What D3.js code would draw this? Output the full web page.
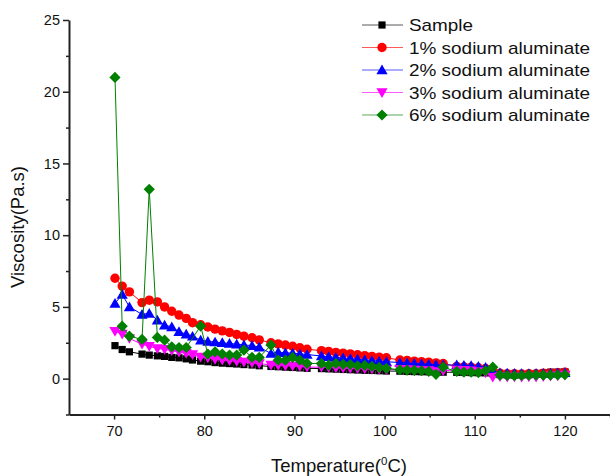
<!DOCTYPE html>
<html>
<head>
<meta charset="utf-8">
<script src="https://cdn.jsdelivr.net/npm/d3@7/dist/d3.min.js"></script>
<style>
  html, body { margin: 0; padding: 0; background: #fff; }
  svg { display: block; font-family: Arial, "Liberation Sans", sans-serif; }
</style>
</head>
<body>
<svg id="chart" width="610" height="476"></svg>
<script>
// Measurement temperatures (°C), shared by all series
const temperature = [
  70.1, 70.9, 71.7,
  73.1, 73.9, 74.8, 75.6, 76.4, 77.2, 78.0, 78.7, 79.6, 80.4, 81.2, 82.0, 82.8, 83.6, 84.4, 85.3, 86.1,
  87.4, 88.2, 89.0, 89.8, 90.6, 91.4,
  93.0, 93.8, 94.6, 95.4, 96.2, 97.0, 97.8, 98.6, 99.4, 100.2,
  101.7, 102.5, 103.3, 104.1, 104.9, 105.7, 106.5,
  108.0, 108.8, 109.6, 110.4, 111.2, 112.0,
  112.8, 113.6, 114.4, 115.2, 116.0, 116.8, 117.6, 118.4, 119.2, 120.0
];

// Viscosity (Pa.s) for each sample; null = no reading at that temperature
const sample = [
  2.3, 2.03, 1.87,
  1.71, 1.64, 1.59, 1.55, 1.48, 1.45, 1.38, 1.3, 1.22, 1.18, 1.12, 1.08, 1.05, 1.02, 0.98, 0.95, 0.9,
  0.85, 0.83, 0.8, 0.78, 0.75, 0.72,
  0.7, 0.68, 0.66, 0.64, 0.62, 0.6, 0.58, 0.57, 0.55, 0.53,
  0.52, 0.5, 0.49, 0.48, 0.47, 0.46, 0.45,
  0.44, 0.43, 0.42, 0.41, 0.4, 0.35,
  0.28, 0.26, 0.25, 0.26, 0.27, 0.3, 0.4, 0.45, 0.45, 0.48
];
const alum1 = [
  7.0, 6.45, 6.05,
  5.3, 5.47, 5.35, 5.0, 4.7, 4.43, 4.2, 3.9, 3.75, 3.6, 3.45, 3.33, 3.22, 3.08, 2.96, 2.85, 2.7,
  2.5, 2.42, 2.34, 2.26, 2.15, 2.05,
  1.95, 1.9, 1.83, 1.78, 1.72, 1.66, 1.6, 1.55, 1.5, 1.45,
  1.3, 1.27, 1.22, 1.18, 1.15, 1.1, 1.05,
  0.85, 0.82, 0.8, 0.76, 0.7, 0.5,
  0.38, 0.35, 0.35, 0.33, 0.35, 0.35, 0.38, 0.4, 0.42, 0.45
];
const alum2 = [
  5.24, 5.87, 5.0,
  4.48, 4.55, 4.08, 3.73, 3.61, 3.27, 3.1, 2.95, 2.68, 2.6, 2.55, 2.5, 2.45, 2.4, 2.35, 2.3, 2.2,
  1.75, 1.85, 1.8, 1.78, 1.72, 1.68,
  1.58, 1.53, 1.48, 1.44, 1.4, 1.35, 1.3, 1.26, 1.22, 1.18,
  1.12, 1.1, 1.06, 1.03, 1.0, 0.97, 0.95,
  0.95, 0.93, 0.9, 0.85, 0.78, 0.55,
  0.4, 0.38, 0.36, 0.35, 0.35, 0.36, 0.37, 0.38, 0.4, 0.42
];
const alum3 = [
  3.3, 3.1, 2.8,
  2.4, 2.25, 2.1, 2.05, 1.95, 1.85, 1.76, 1.68, 1.5, 1.45, 1.35, 1.3, 1.25, 1.2, 1.15, 1.1, 1.05,
  0.95, 0.92, 0.9, 0.88, 0.85, 0.8,
  0.8, 0.78, 0.76, 0.74, 0.72, 0.7, 0.68, 0.66, 0.64, 0.62,
  0.65, 0.63, 0.6, 0.58, 0.56, 0.5, 0.55,
  0.6, 0.58, 0.55, 0.5, 0.4, 0.1,
  0.15, 0.1, 0.12, 0.1, 0.12, 0.1, 0.15, 0.18, 0.2, 0.25
];
const alum6 = [
  21.0, 3.66, 2.96,
  2.73, 13.2, 2.87, 2.68, 2.22, 2.17, 2.17, null, 3.66, 1.71, 1.87, 1.71, 1.64, 1.64, 1.99, 1.48, 1.48,
  2.34, 1.29, 1.29, 1.48, 1.29, 1.06,
  1.06, 0.94, 1.06, 1.0, 0.98, 0.9, 0.92, 0.85, 0.78, 0.72,
  0.62, 0.6, 0.58, 0.55, 0.5, 0.3, 0.8,
  0.5, 0.45, 0.45, 0.42, 0.55, 0.8,
  0.25, 0.22, 0.2, 0.22, 0.24, 0.25, 0.24, 0.25, 0.26, 0.27
];

const seriesNames = ["Sample", "1% sodium aluminate", "2% sodium aluminate", "3% sodium aluminate", "6% sodium aluminate"];
const seriesValues = [sample, alum1, alum2, alum3, alum6];
const seriesColors = ["#000000", "#ff0000", "#0000ff", "#ff00ff", "#008000"];
const seriesShapes = ["square", "circle", "triangleUp", "triangleDown", "diamond"];

const xMajorTicks = [70, 80, 90, 100, 110, 120];
const xMinorTicks = [75, 85, 95, 105, 115, 125];
const yMajorTicks = [0, 5, 10, 15, 20, 25];
const yMinorTicks = [-2.5, 2.5, 7.5, 12.5, 17.5, 22.5];

const svg = d3.select("#chart");
const x = d3.scaleLinear().domain([65, 125]).range([69, 610]);
const y = d3.scaleLinear().domain([-2.5, 25]).range([414.5, 20]);

// marker path generators
function markerPath(shape) {
  switch (shape) {
    case "square": return d3.symbol().type(d3.symbolSquare).size(52)();
    case "circle": return d3.symbol().type(d3.symbolCircle).size(70)();
    case "triangleUp": return "M0,-5.4L5.6,4.3L-5.6,4.3Z";
    case "triangleDown": return "M0,5.4L5.6,-4.3L-5.6,-4.3Z";
    case "diamond": return "M0,-5.6L5.6,0L0,5.6L-5.6,0Z";
  }
}

const plot = svg.append("g");
const line = d3.line().x(d => x(d[0])).y(d => y(d[1]));

seriesValues.forEach((vals, i) => {
  const pts = temperature.map((t, j) => [t, vals[j]]).filter(d => d[1] !== null);
  const g = plot.append("g");
  g.append("path")
    .datum(pts)
    .attr("d", line)
    .attr("fill", "none")
    .attr("stroke", seriesColors[i])
    .attr("stroke-width", 1);
  g.selectAll("path.m")
    .data(pts)
    .join("path")
    .attr("class", "m")
    .attr("d", markerPath(seriesShapes[i]))
    .attr("transform", d => `translate(${x(d[0])},${y(d[1])})`)
    .attr("fill", seriesColors[i]);
});

// axes
const axisColor = "#222";
const xAxisG = svg.append("g").attr("transform", `translate(0,${y(-2.5)})`);
xAxisG.call(d3.axisBottom(x).tickValues(xMajorTicks).tickSize(5).tickSizeOuter(0).tickPadding(6));
const xMinorG = svg.append("g").attr("transform", `translate(0,${y(-2.5)})`);
xMinorG.call(d3.axisBottom(x).tickValues(xMinorTicks).tickSize(3).tickSizeOuter(0).tickFormat(""));

const yAxisG = svg.append("g").attr("transform", `translate(${x(65)},0)`);
yAxisG.call(d3.axisLeft(y).tickValues(yMajorTicks).tickSize(6).tickSizeOuter(0).tickPadding(3));
const yMinorG = svg.append("g").attr("transform", `translate(${x(65)},0)`);
yMinorG.call(d3.axisLeft(y).tickValues(yMinorTicks).tickSize(3).tickSizeOuter(0).tickFormat(""));

[xAxisG, xMinorG, yAxisG, yMinorG].forEach(g => {
  g.select(".domain").attr("stroke", axisColor).attr("stroke-width", 2);
  g.selectAll(".tick line").attr("stroke", axisColor).attr("stroke-width", 1.5);
  g.selectAll(".tick text").attr("fill", "#111").attr("font-size", 14.5)
    .attr("font-family", "Arial, 'Liberation Sans', sans-serif");
});
xMinorG.select(".domain").remove();
yMinorG.select(".domain").remove();

// axis titles
const xTitle = svg.append("text")
  .attr("x", 339).attr("y", 472)
  .attr("text-anchor", "middle")
  .attr("font-size", 18.5)
  .attr("fill", "#111");
xTitle.append("tspan").text("Temperature(");
xTitle.append("tspan").attr("dy", -7.5).attr("font-size", 11.5).text("0");
xTitle.append("tspan").attr("dy", 7.5).text("C)");

svg.append("text")
  .attr("transform", `translate(24,227) rotate(-90)`)
  .attr("text-anchor", "middle")
  .attr("font-size", 18.5)
  .attr("fill", "#111")
  .text("Viscosity(Pa.s)");

// legend
const legendWidths = [64, 181, 181, 181, 181];
const legend = svg.append("g");
seriesNames.forEach((name, i) => {
  const cy = 25 + i * 22.5;
  legend.append("line")
    .attr("x1", 362).attr("x2", 403)
    .attr("y1", cy).attr("y2", cy)
    .attr("stroke", seriesColors[i]).attr("stroke-width", 1).attr("stroke-opacity", 0.65);
  legend.append("path")
    .attr("d", markerPath(seriesShapes[i]))
    .attr("transform", `translate(382,${cy})`)
    .attr("fill", seriesColors[i]);
  legend.append("text")
    .attr("x", 409).attr("y", cy)
    .attr("dy", "0.36em")
    .attr("font-size", 17)
    .attr("textLength", legendWidths[i])
    .attr("lengthAdjust", "spacingAndGlyphs")
    .attr("fill", "#111")
    .text(name);
});
</script>
</body>
</html>
